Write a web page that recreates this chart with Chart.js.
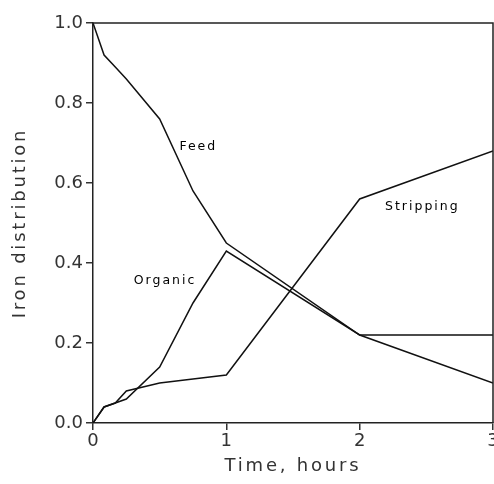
<!DOCTYPE html>
<html>
<head>
<meta charset="utf-8">
<script src="https://cdn.jsdelivr.net/npm/chart.js@4/dist/chart.umd.min.js"></script>
<style>
  html, body { margin: 0; padding: 0; background: #fff; }
  #wrap { width: 494px; height: 484px; }
</style>
</head>
<body>
<div id="wrap"><canvas id="chart"></canvas></div>
<script>
// time in hours (5, 10, 15, 30, 45 min, then 1, 2, 3 h)
const hours = [0, 0.083, 0.167, 0.25, 0.5, 0.75, 1, 2, 3];
const feed = [1.0, 0.92, 0.89, 0.86, 0.76, 0.58, 0.45, 0.22, 0.10];
const organic = [0, 0.04, 0.05, 0.06, 0.14, 0.30, 0.43, 0.22, 0.22];
const stripping = [0, 0.04, 0.05, 0.08, 0.10, 0.11, 0.12, 0.56, 0.68];
const yTicks = [0, 0.2, 0.4, 0.6, 0.8, 1.0];
const xTicks = [0, 1, 2, 3];
const xTitle = 'Time, hours';
const yTitle = 'Iron distribution';

// in-plot labels, placed in data units
const curveLabels = [
  { text: 'Feed', x: 0.79, y: 0.69 },
  { text: 'Organic', x: 0.54, y: 0.355 },
  { text: 'Stripping', x: 2.47, y: 0.54 }
];

const toPoints = ys => hours.map((h, i) => ({ x: h, y: ys[i] }));

const lineStyle = {
  borderColor: '#111',
  backgroundColor: 'transparent',
  borderWidth: 1.5,
  pointRadius: 0,
  tension: 0
};

// box on top and right, curve labels and spaced-out axis titles
const framePlugin = {
  id: 'frame',
  afterDatasetsDraw(chart) {
    const { ctx, chartArea: a, scales } = chart;
    ctx.save();
    ctx.strokeStyle = '#222';
    ctx.lineWidth = 1.5;
    ctx.beginPath();
    ctx.moveTo(a.left, a.top);
    ctx.lineTo(a.right, a.top);
    ctx.lineTo(a.right, a.bottom);
    ctx.stroke();

    const spaced = 'letterSpacing' in ctx;
    ctx.textAlign = 'center';
    ctx.textBaseline = 'middle';

    ctx.fillStyle = '#000';
    ctx.font = '12.5px "DejaVu Sans"';
    if (spaced) ctx.letterSpacing = '2px';
    curveLabels.forEach(l => {
      ctx.fillText(l.text, scales.x.getPixelForValue(l.x), scales.y.getPixelForValue(l.y));
    });

    ctx.fillStyle = '#333';
    ctx.font = '18px "DejaVu Sans"';
    if (spaced) ctx.letterSpacing = '2.8px';
    ctx.fillText(xTitle, (a.left + a.right) / 2, 466);
    ctx.translate(20, (a.top + a.bottom) / 2);
    ctx.rotate(-Math.PI / 2);
    ctx.fillText(yTitle, 0, 0);
    ctx.restore();
  }
};

const axisFont = { family: 'DejaVu Sans', size: 18, weight: 'normal' };

new Chart(document.getElementById('chart'), {
  type: 'line',
  data: {
    datasets: [
      Object.assign({ label: 'Feed', data: toPoints(feed) }, lineStyle),
      Object.assign({ label: 'Organic', data: toPoints(organic) }, lineStyle),
      Object.assign({ label: 'Stripping', data: toPoints(stripping) }, lineStyle)
    ]
  },
  options: {
    responsive: true,
    maintainAspectRatio: false,
    animation: false,
    layout: { padding: { top: 23, right: 1, left: 0, bottom: 0 } },
    plugins: {
      legend: { display: false },
      tooltip: { enabled: false }
    },
    scales: {
      x: {
        type: 'linear',
        min: 0,
        max: 3,
        afterFit: s => { s.height = 61; s.paddingRight = 0; s.paddingLeft = 0; },
        afterBuildTicks: s => { s.ticks = xTicks.map(v => ({ value: v })); },
        grid: { drawOnChartArea: false, drawTicks: true, tickLength: 7, color: '#333', lineWidth: 1.5 },
        border: { display: true, color: '#222', width: 1.5 },
        ticks: { color: '#333', font: axisFont, padding: 1, maxRotation: 0, callback: v => String(v) },
        title: { display: false }
      },
      y: {
        type: 'linear',
        min: 0,
        max: 1,
        afterFit: s => { s.width = 93; s.paddingTop = 0; s.paddingBottom = 0; },
        afterBuildTicks: s => { s.ticks = yTicks.map(v => ({ value: v })); },
        grid: { drawOnChartArea: false, drawTicks: true, tickLength: 7, color: '#333', lineWidth: 1.5 },
        border: { display: true, color: '#222', width: 1.5 },
        ticks: { color: '#333', font: axisFont, padding: 3, callback: v => v.toFixed(1) },
        title: { display: false }
      }
    }
  },
  plugins: [framePlugin]
});
</script>
</body>
</html>
